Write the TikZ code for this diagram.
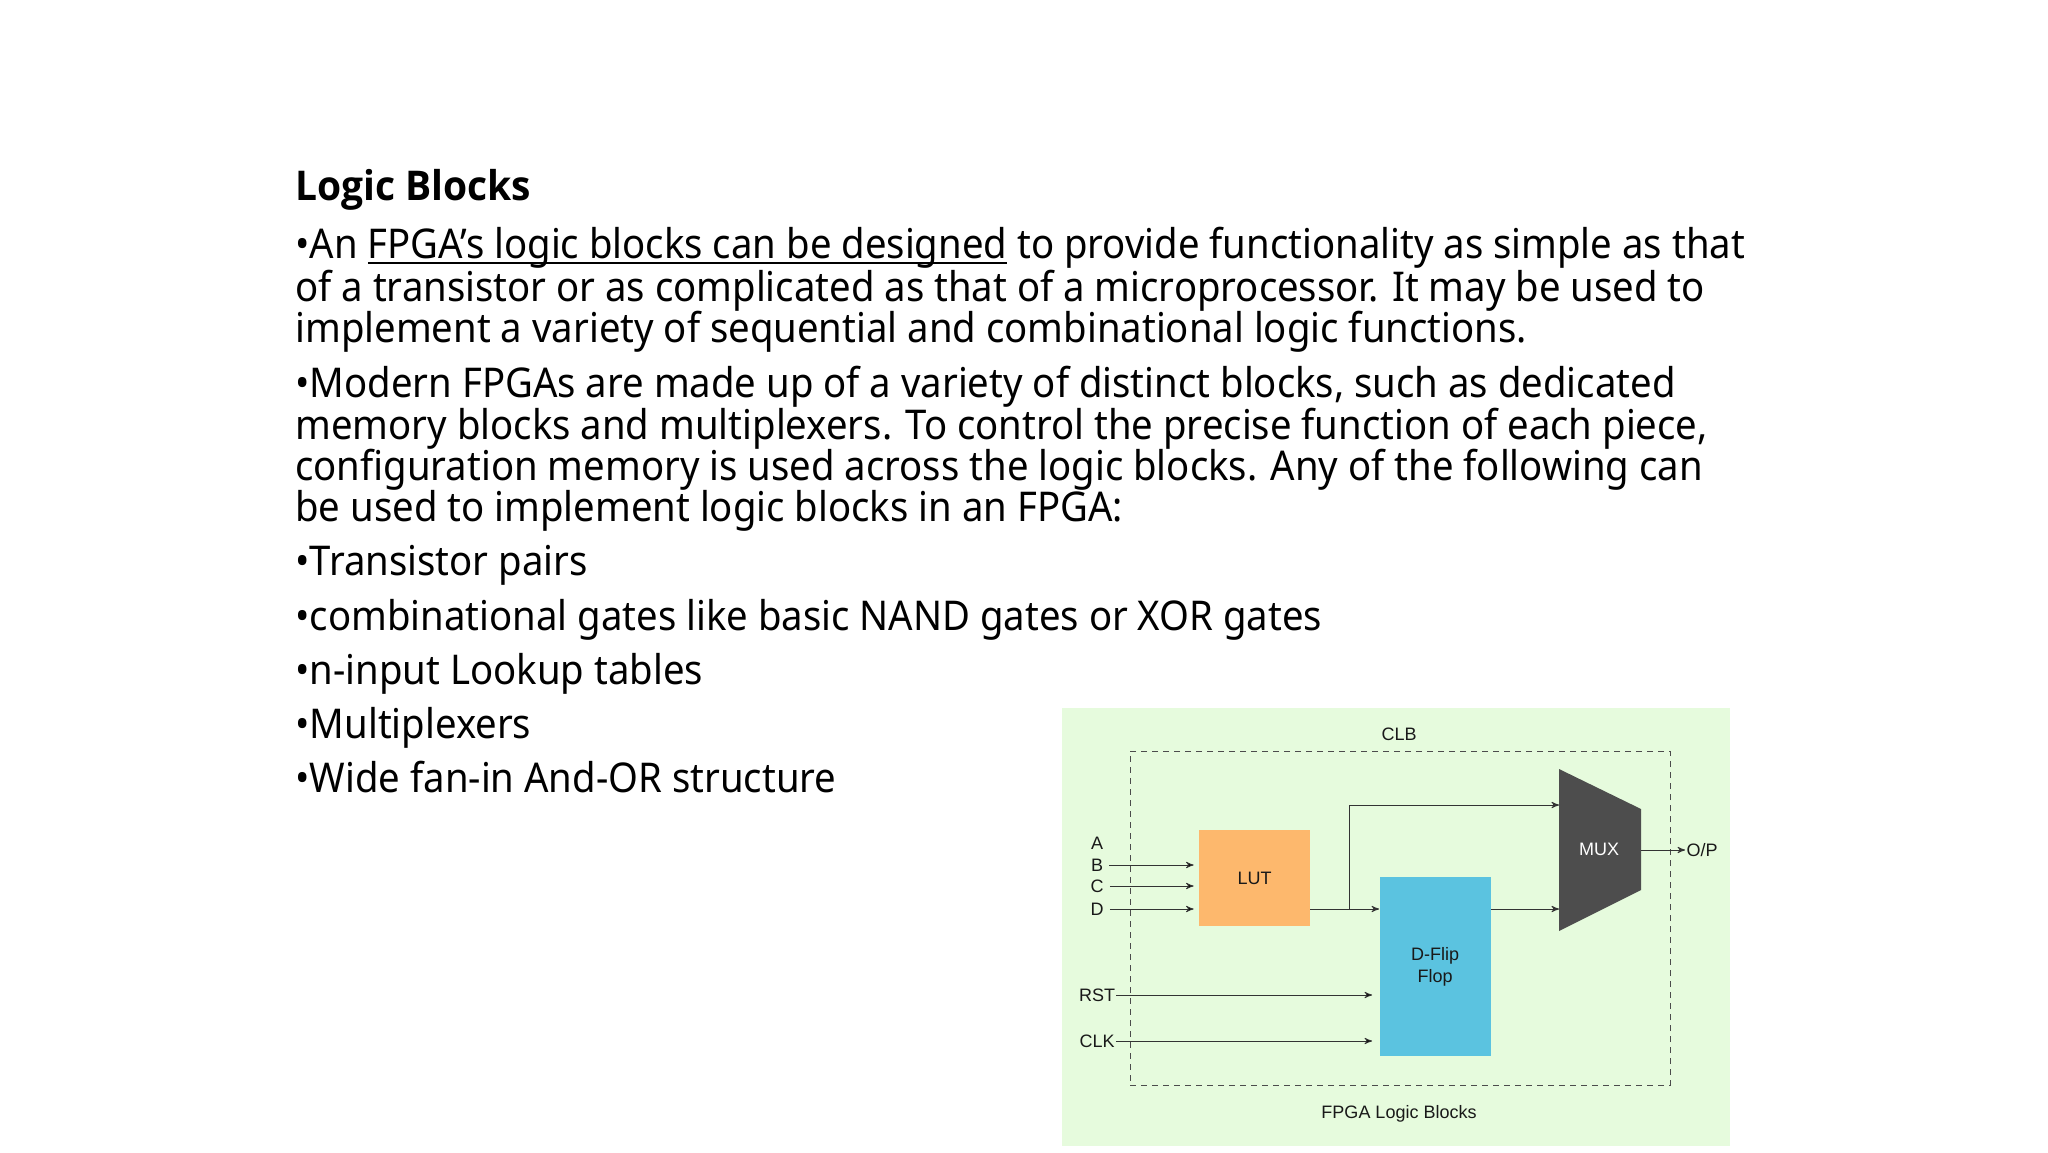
\documentclass[tikz,border=0pt]{standalone}
\usepackage{fontspec}
\usepackage{tikz}
\usetikzlibrary{arrows}
\setmainfont{Noto Sans}[FakeStretch=0.934]
\newfontfamily\titleFont{Open Sans}[FakeStretch=0.95]
\newfontfamily\figFont{Liberation Sans}
\newcommand{\underRule}[1]{\setbox0=\hbox{#1}\rlap{\rule[-3pt]{\wd0}{1pt}}\box0\relax}
\tikzset{
     titleLine/.style =
        { anchor=base west
        , inner sep=0pt
        , font=\titleFont\fontsize{20.5}{24}\selectfont\bfseries
        }
   , bodyLine/.style =
        { anchor=base west
        , inner sep=0pt
        , font=\fontsize{20.5}{24}\selectfont
        }
   , figLabel/.style =
        { inner sep=0.5pt
        , text=black!90
        , font=\figFont\fontsize{9}{11}\selectfont
        }
   , wire/.style =
        { ->
        , >=stealth'
        , draw=black!80
        , line width=0.45pt
        }
   , block/.style =
        { figLabel
        , minimum width=55.5pt
        , align=center
        }
}
\definecolor{panelGreen}{HTML}{E6FBDD}
\definecolor{lutOrange}{HTML}{FDB86D}
\definecolor{dffBlue}{HTML}{5BC3E0}
\definecolor{muxGrey}{HTML}{4D4D4D}

\begin{document}
\begin{tikzpicture}
            [ x=0.5pt
            , y=-0.5pt
            ]
            \useasboundingbox (0,0) rectangle (2048,1152);

            \node[titleLine] (title) at (295,200) {Logic Blocks};
            \node[bodyLine] (l1) at (295,258) {•An \underRule{FPGA’s logic blocks can be designed} to provide functionality as simple as that};
            \node[bodyLine] (l2) at (295,301) {of a transistor or as complicated as that of a microprocessor. It may be used to};
            \node[bodyLine] (l3) at (295,342) {implement a variety of sequential and combinational logic functions.};
            \node[bodyLine] (l4) at (295,397) {•Modern FPGAs are made up of a variety of distinct blocks, such as dedicated};
            \node[bodyLine] (l5) at (295,439) {memory blocks and multiplexers. To control the precise function of each piece,};
            \node[bodyLine] (l6) at (295,480) {configuration memory is used across the logic blocks. Any of the following can};
            \node[bodyLine] (l7) at (295,521) {be used to implement logic blocks in an FPGA:};
            \node[bodyLine] (l8) at (295,575) {•Transistor pairs};
            \node[bodyLine] (l9) at (295,630) {•combinational gates like basic NAND gates or XOR gates};
            \node[bodyLine] (l10) at (295,684) {•n-input Lookup tables};
            \node[bodyLine] (l11) at (295,738) {•Multiplexers};
            \node[bodyLine] (l12) at (295,792) {•Wide fan-in And-OR structure};

            \node[fill=panelGreen, inner sep=0pt, minimum width=334pt, minimum height=219pt] (panel) at (1396,927) {};
            \node[draw=black!70, dash pattern=on 3pt off 2.5pt, line width=0.5pt, inner sep=0pt, minimum width=270pt, minimum height=167pt] (clb) at (1400,918) {};

            \node[figLabel] (clbLabel) at (1399,734) {CLB};
            \node[figLabel] (figTitle) at (1399,1114) {FPGA Logic Blocks};

            \node[block, fill=lutOrange, minimum height=48pt] (lut) at (1254.5,878) {LUT};
            \node[block, fill=dffBlue, minimum height=89.5pt] (dff) at (1435,966.5) {D-Flip\\Flop};

            \fill[muxGrey] (1559,769) -- (1641,809) -- (1641,890) -- (1559,931) -- cycle;
            \node[figLabel, text=white] (mux) at (1599,849) {MUX};
            \coordinate (muxTop) at (1559,805);
            \coordinate (muxBottom) at (1559,909);
            \coordinate (muxOut) at (1641,850);

            \node[figLabel, inner sep=3pt] (a) at (1097,843) {A};
            \node[figLabel, inner sep=3pt] (b) at (1097,865) {B};
            \node[figLabel, inner sep=3pt] (c) at (1097,886) {C};
            \node[figLabel, inner sep=3pt] (d) at (1097,909) {D};
            \node[figLabel] (rst) at (1097,995) {RST};
            \node[figLabel] (clk) at (1097,1041) {CLK};
            \node[figLabel] (op) at (1702,850) {O/P};

            \coordinate (lutOut) at (lut.east |- d);
            \coordinate (branch) at (1349,909);

            \path[wire, shorten >=2.5pt]
            (b) edge (b -| lut.west)
            (c) edge (c -| lut.west)
            (d) edge (d -| lut.west)
            ;
            \path[wire, shorten >=3.5pt]
            (rst) edge (rst -| dff.west)
            (clk) edge (clk -| dff.west)
            ;
            \draw[wire] (lutOut) -- (d -| dff.west);
            \draw[wire] (branch) |- (muxTop);
            \draw[wire] (d -| dff.east) -- (muxBottom);
            \draw[wire] (muxOut) -- (op);
        \end{tikzpicture}
\end{document}
